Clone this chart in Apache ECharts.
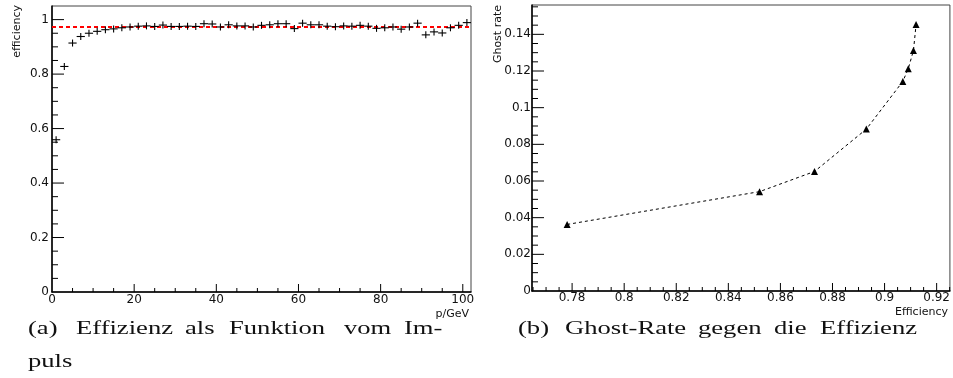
<!DOCTYPE html>
<html>
<head>
<meta charset="utf-8">
<script src="https://cdn.jsdelivr.net/npm/echarts@6/dist/echarts.min.js"></script>
<style>
html,body{margin:0;padding:0;background:#fff;}
#c{width:953px;height:378px;}
</style>
</head>
<body>
<div id="c"></div>
<script>
// ---- Panel (a): efficiency vs momentum ----
const momentum = [1,3,5,7,9,11,13,15,17,19,21,23,25,27,29,31,33,35,37,39,41,43,45,47,49,51,53,55,57,59,61,63,65,67,69,71,73,75,77,79,81,83,85,87,89,91,93,95,97,99,101];
const efficiency = [0.559,0.828,0.914,0.938,0.950,0.957,0.963,0.966,0.970,0.973,0.976,0.977,0.975,0.980,0.975,0.975,0.976,0.975,0.985,0.984,0.973,0.981,0.977,0.977,0.973,0.979,0.981,0.985,0.985,0.967,0.987,0.981,0.981,0.976,0.974,0.977,0.976,0.979,0.976,0.968,0.970,0.973,0.965,0.973,0.987,0.944,0.955,0.951,0.970,0.979,0.989];
const fitLevel = 0.9725;
const xLabelsA = ['0','20','40','60','80','100'];
const yLabelsA = ['0','0.2','0.4','0.6','0.8','1'];

// ---- Panel (b): ghost rate vs efficiency ----
const effB = [0.7781,0.8520,0.8731,0.8930,0.9070,0.9091,0.9111,0.9121];
const ghostB = [0.0363,0.0542,0.0652,0.0883,0.1143,0.1212,0.1312,0.1453];
const xLabelsB = ['0.78','0.8','0.82','0.84','0.86','0.88','0.9','0.92'];
const yLabelsB = ['0','0.02','0.04','0.06','0.08','0.1','0.12','0.14'];

const FONT = 'DejaVu Sans';
const chart = echarts.init(document.getElementById('c'));

function labelFmt(labels) {
  return function (v) {
    for (let i = 0; i < labels.length; i++) if (Math.abs(parseFloat(labels[i]) - v) < 1e-7) return labels[i];
    return '';
  };
}

function axis(gridIndex, min, max, interval, labels, margin) {
  const a = {
    type: 'value', gridIndex: gridIndex, min: min, max: max,
    splitLine: {show: false},
    axisLine: {show: true, onZero: false, lineStyle: {color: '#000', width: 1.5}},
    axisTick: {show: false},
    axisLabel: {show: true, formatter: labelFmt(labels), color: '#111',
      fontFamily: FONT, fontSize: 12, margin: margin},
    minorTick: {show: false}
  };
  if (interval) a.interval = interval; else a.splitNumber = 8;
  return a;
}

// tick positions (major step / 4 subdivisions), kind: 0 x-major, 1 x-minor, 2 y-major, 3 y-minor
function tickData(lo, hi, majorStep, xKind) {
  const minorStep = majorStep / 4;
  const out = [];
  const k0 = Math.ceil(lo / minorStep - 1e-6), k1 = Math.floor(hi / minorStep + 1e-6);
  for (let k = k0; k <= k1; k++) {
    const v = Math.round(k * minorStep * 1e6) / 1e6;
    if (v <= lo + 1e-9 || v >= hi - 1e-9) continue;
    out.push([v, (k % 4 === 0) ? xKind : xKind + 1]);
  }
  return out;
}

const xMinA = 0, xMaxA = 102, yMinA = 0, yMaxA = 1.05;
const xMinB = 0.7646, xMaxB = 0.9251, yMinB = 0, yMaxB = 0.156;

function tickSeries(xi, yi, xMin, yMin, data, lens) {
  return {
    type: 'custom', xAxisIndex: xi, yAxisIndex: yi, z: 10, silent: true,
    encode: {x: -1, y: -1},
    data: data,
    renderItem: function (params, api) {
      const v = api.value(0), kind = api.value(1);
      const cs = params.coordSys;
      const bottom = cs.y + cs.height, left = cs.x;
      const len = lens[kind];
      let shape;
      if (kind < 2) {
        const px = api.coord([v, yMin])[0];
        shape = {x1: px, y1: bottom, x2: px, y2: bottom - len};
      } else {
        const py = api.coord([xMin, v])[1];
        shape = {x1: left, y1: py, x2: left + len, y2: py};
      }
      return {type: 'line', shape: shape, style: {stroke: '#000', lineWidth: 1}};
    }
  };
}

const ticksA = tickData(xMinA, xMaxA, 20, 0).concat(tickData(yMinA, yMaxA, 0.2, 2));
const ticksB = tickData(xMinB, xMaxB, 0.02, 0).concat(tickData(yMinB, yMaxB, 0.02, 2));

const option = {
  animation: false,
  grid: [
    {left: 52, top: 6, right: 482, bottom: 86, show: true, borderColor: '#444', borderWidth: 1},
    {left: 532, top: 5, right: 1, bottom: 87, show: true, borderColor: '#444', borderWidth: 1}
  ],
  xAxis: [
    axis(0, xMinA, xMaxA, 20, xLabelsA, 2),
    axis(1, xMinB, xMaxB, null, xLabelsB, 1)
  ],
  yAxis: [
    axis(0, yMinA, yMaxA, 0.2, yLabelsA, 3),
    axis(1, yMinB, yMaxB, 0.02, yLabelsB, 1)
  ],
  series: [
    {
      type: 'line', xAxisIndex: 0, yAxisIndex: 0,
      data: [[xMinA, fitLevel], [xMaxA, fitLevel]],
      symbol: 'none', lineStyle: {color: '#ff0000', width: 2, type: [4, 3]}, z: 2, silent: true
    },
    {
      type: 'custom', xAxisIndex: 0, yAxisIndex: 0, z: 3,
      data: momentum.map((m, i) => [m, efficiency[i]]),
      renderItem: function (params, api) {
        const x = api.value(0), y = api.value(1);
        const p = api.coord([x, y]);
        const l = api.coord([x - 1, y]);
        const r = api.coord([x + 1, y]);
        return {
          type: 'group',
          children: [
            {type: 'line', shape: {x1: l[0], y1: p[1], x2: r[0], y2: p[1]}, style: {stroke: '#000', lineWidth: 1.1}},
            {type: 'line', shape: {x1: p[0], y1: p[1] - 3.5, x2: p[0], y2: p[1] + 3.5}, style: {stroke: '#000', lineWidth: 1.1}}
          ]
        };
      }
    },
    {
      type: 'line', xAxisIndex: 1, yAxisIndex: 1,
      data: effB.map((e, i) => [e, ghostB[i]]),
      symbol: 'triangle', symbolSize: 7,
      itemStyle: {color: '#000'},
      lineStyle: {color: '#000', width: 1, type: [3, 3]}
    },
    tickSeries(0, 0, xMinA, yMinA, ticksA, [8, 4, 12, 6]),
    tickSeries(1, 1, xMinB, yMinB, ticksB, [8, 4, 12, 6])
  ],
  graphic: [
    {type: 'text', x: 17, y: 5, rotation: Math.PI / 2, style: {text: 'efficiency', font: '11px "DejaVu Sans"', fill: '#111', align: 'right', verticalAlign: 'middle'}},
    {type: 'text', x: 469, y: 314, style: {text: 'p/GeV', font: '11px "DejaVu Sans"', fill: '#111', align: 'right', verticalAlign: 'middle'}},
    {type: 'text', x: 498, y: 5, rotation: Math.PI / 2, style: {text: 'Ghost rate', font: '11px "DejaVu Sans"', fill: '#111', align: 'right', verticalAlign: 'middle'}},
    {type: 'text', x: 948, y: 312, style: {text: 'Efficiency', font: '11px "DejaVu Sans"', fill: '#111', align: 'right', verticalAlign: 'middle'}},

    {type: 'text', x: 28, y: 329, scaleX: 1.4, style: {text: '(a)', font: '19px "Liberation Serif"', fill: '#111', align: 'left', verticalAlign: 'middle'}},
    {type: 'text', x: 76, y: 329, scaleX: 1.4, style: {text: 'Effizienz', font: '19px "Liberation Serif"', fill: '#111', align: 'left', verticalAlign: 'middle'}},
    {type: 'text', x: 185, y: 329, scaleX: 1.4, style: {text: 'als', font: '19px "Liberation Serif"', fill: '#111', align: 'left', verticalAlign: 'middle'}},
    {type: 'text', x: 229, y: 329, scaleX: 1.4, style: {text: 'Funktion', font: '19px "Liberation Serif"', fill: '#111', align: 'left', verticalAlign: 'middle'}},
    {type: 'text', x: 344, y: 329, scaleX: 1.4, style: {text: 'vom', font: '19px "Liberation Serif"', fill: '#111', align: 'left', verticalAlign: 'middle'}},
    {type: 'text', x: 404, y: 329, scaleX: 1.4, style: {text: 'Im-', font: '19px "Liberation Serif"', fill: '#111', align: 'left', verticalAlign: 'middle'}},
    {type: 'text', x: 28, y: 362, scaleX: 1.4, style: {text: 'puls', font: '19px "Liberation Serif"', fill: '#111', align: 'left', verticalAlign: 'middle'}},

    {type: 'text', x: 518, y: 329, scaleX: 1.4, style: {text: '(b)', font: '19px "Liberation Serif"', fill: '#111', align: 'left', verticalAlign: 'middle'}},
    {type: 'text', x: 565, y: 329, scaleX: 1.4, style: {text: 'Ghost-Rate', font: '19px "Liberation Serif"', fill: '#111', align: 'left', verticalAlign: 'middle'}},
    {type: 'text', x: 698, y: 329, scaleX: 1.4, style: {text: 'gegen', font: '19px "Liberation Serif"', fill: '#111', align: 'left', verticalAlign: 'middle'}},
    {type: 'text', x: 774, y: 329, scaleX: 1.4, style: {text: 'die', font: '19px "Liberation Serif"', fill: '#111', align: 'left', verticalAlign: 'middle'}},
    {type: 'text', x: 820, y: 329, scaleX: 1.4, style: {text: 'Effizienz', font: '19px "Liberation Serif"', fill: '#111', align: 'left', verticalAlign: 'middle'}}
  ]
};
chart.setOption(option);
</script>
</body>
</html>
